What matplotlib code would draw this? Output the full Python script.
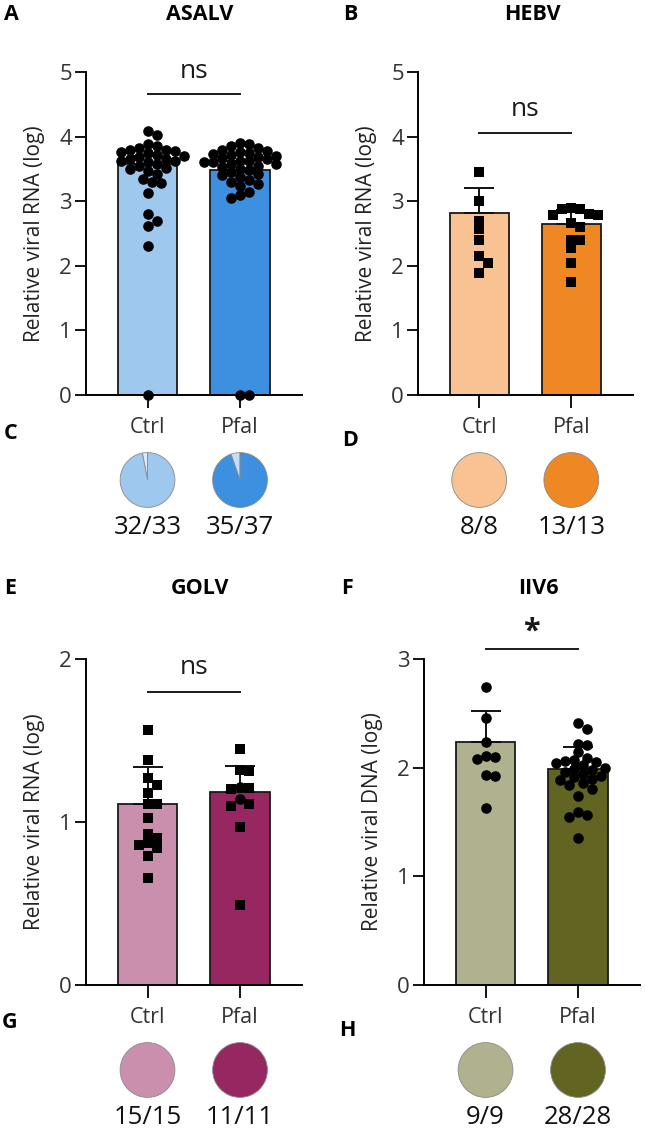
import matplotlib.pyplot as plt
import numpy as np

plt.rcParams['font.family'] = ['Open Sans', 'DejaVu Sans']

W, H, DPI = 645, 1132, 100

groups = ["Ctrl", "Pfal"]

# ── ASALV ────────────────────────────────────────────────────────────────
asalv_ctrl = [4.09, 4.02, 3.88, 3.85, 3.82, 3.80, 3.79, 3.78, 3.76, 3.74, 3.72,
              3.70, 3.68, 3.66, 3.65, 3.63, 3.62, 3.60, 3.58, 3.55, 3.52, 3.50,
              3.47, 3.42, 3.35, 3.30, 3.28, 3.12, 2.80, 2.70, 2.62, 2.30, 0.0]
asalv_pfal = [3.90, 3.88, 3.85, 3.82, 3.80, 3.78, 3.76, 3.75, 3.73, 3.72, 3.70,
              3.68, 3.67, 3.65, 3.63, 3.62, 3.60, 3.60, 3.58, 3.57, 3.55, 3.53,
              3.50, 3.48, 3.45, 3.42, 3.40, 3.37, 3.33, 3.30, 3.27, 3.24, 3.15,
              3.10, 3.05, 0.0, 0.0]
asalv_mean = [3.57, 3.49]
asalv_err = [0.13, 0.14]
asalv_pos = [32, 35]
asalv_tot = [33, 37]

# ── HEBV ─────────────────────────────────────────────────────────────────
hebv_ctrl = [3.45, 3.00, 2.70, 2.57, 2.40, 2.15, 2.05, 1.89]
hebv_pfal = [2.90, 2.88, 2.88, 2.80, 2.78, 2.78, 2.66, 2.60, 2.40, 2.40, 2.27,
             2.04, 1.75]
hebv_mean = [2.81, 2.64]
hebv_err = [0.39, 0.22]
hebv_pos = [8, 13]
hebv_tot = [8, 13]

# ── GOLV ─────────────────────────────────────────────────────────────────
golv_ctrl = [1.565, 1.38, 1.27, 1.23, 1.18, 1.11, 1.11, 1.025, 0.926, 0.90,
             0.87, 0.856, 0.84, 0.79, 0.655]
golv_pfal = [1.45, 1.32, 1.31, 1.21, 1.20, 1.215, 1.14, 1.11, 1.10, 0.97, 0.49]
golv_pfal_marks = ["s", "s", "s", "s", "s", "o", "o", "s", "s", "s", "s"]
golv_mean = [1.11, 1.187]
golv_err = [0.225, 0.156]
golv_pos = [15, 11]
golv_tot = [15, 11]

# ── IIV6 ─────────────────────────────────────────────────────────────────
iiv6_ctrl = [2.74, 2.46, 2.24, 2.10, 2.08, 2.11, 1.93, 1.92, 1.63]
iiv6_pfal = [2.41, 2.36, 2.22, 2.21, 2.14, 2.09, 2.07, 2.06, 2.05, 2.04, 2.02,
             2.00, 1.99, 1.98, 1.96, 1.94, 1.92, 1.91, 1.90, 1.89, 1.86, 1.84,
             1.80, 1.74, 1.59, 1.56, 1.55, 1.35]
iiv6_mean = [2.24, 1.99]
iiv6_err = [0.28, 0.20]
iiv6_pos = [9, 28]
iiv6_tot = [9, 28]

XLIM = (-0.665, 1.67)
BAR_W = 0.64
DOT = 9.0  # marker diameter, px


def px_rect(l, t, r, b):
    return [l / W, 1 - b / H, (r - l) / W, (b - t) / H]


def swarm(vals, xc, sx, sy, d=DOT):
    """Simple beeswarm: x offsets (data units) avoiding overlaps in pixel space."""
    vals = np.asarray(vals, float)
    xs = np.full(len(vals), float(xc))
    placed = []
    for i in np.argsort(-vals, kind="stable"):
        ypx = vals[i] * sy
        off = 0.0
        for k in range(40):
            cands = [0.0] if k == 0 else [k * d * 0.5, -k * d * 0.5]
            hit = False
            for c in cands:
                if all((c - px) ** 2 + (ypx - py) ** 2 >= (d * 0.92) ** 2
                       for px, py in placed):
                    off, hit = c, True
                    break
            if hit:
                break
        placed.append((off, ypx))
        xs[i] = xc + off / sx
    return xs


def text_px(fig, x, y, s, **kw):
    fig.text(x / W, 1 - y / H, s, ha="center", va="center", **kw)


panels = [
    dict(rect=(86, 72, 302, 395), title="ASALV", letter="A", tx=200, ty=14, lx=11,
         ylabel="Relative viral RNA (log)", ymax=5, yticks=[0, 1, 2, 3, 4, 5],
         data=[asalv_ctrl, asalv_pfal], marks=[["o"] * 33, ["o"] * 37],
         mean=asalv_mean, err=asalv_err, pos=asalv_pos, tot=asalv_tot,
         colors=["#9fc8ee", "#3d8fe0"], neg=["#dbe9f8", "#c6ddf5"],
         sig="ns", sig_y=4.66, sig_ty=5.0,
         pletter="C", ply=433, row_y=428, pie_y=480, frac_y=527),
    dict(rect=(418, 72, 633, 395), title="HEBV", letter="B", tx=532, ty=14, lx=350,
         ylabel="Relative viral RNA (log)", ymax=5, yticks=[0, 1, 2, 3, 4, 5],
         data=[hebv_ctrl, hebv_pfal], marks=[["s"] * 8, ["s"] * 13],
         mean=hebv_mean, err=hebv_err, pos=hebv_pos, tot=hebv_tot,
         colors=["#f8c292", "#ef8723"], neg=["#fbe3cc", "#f8cfa5"],
         sig="ns", sig_y=4.05, sig_ty=4.42,
         pletter="D", ply=441, row_y=428, pie_y=480, frac_y=527),
    dict(rect=(86, 659, 302, 985), title="GOLV", letter="E", tx=200, ty=589, lx=10,
         ylabel="Relative viral RNA (log)", ymax=2, yticks=[0, 1, 2],
         data=[golv_ctrl, golv_pfal], marks=[["s"] * 15, golv_pfal_marks],
         mean=golv_mean, err=golv_err, pos=golv_pos, tot=golv_tot,
         colors=["#cb8fae", "#962760"], neg=["#ead3df", "#d6a7bf"],
         sig="ns", sig_y=1.80, sig_ty=1.945,
         pletter="G", ply=1023, row_y=1017, pie_y=1070, frac_y=1117),
    dict(rect=(424, 659, 640, 985), title="IIV6", letter="F", tx=538, ty=589, lx=347,
         ylabel="Relative viral DNA (log)", ymax=3, yticks=[0, 1, 2, 3],
         data=[iiv6_ctrl, iiv6_pfal], marks=[["o"] * 9, ["o"] * 28],
         mean=iiv6_mean, err=iiv6_err, pos=iiv6_pos, tot=iiv6_tot,
         colors=["#b0b28f", "#616521"], neg=["#e2e3d3", "#b7b98f"],
         sig="*", sig_y=3.095, sig_ty=3.25,
         pletter="H", ply=1031, row_y=1017, pie_y=1070, frac_y=1117),
]

fig = plt.figure(figsize=(W / DPI, H / DPI), dpi=DPI)
x = np.arange(len(groups))

for p in panels:
    l, t, r, b = p["rect"]
    ax = fig.add_axes(px_rect(l, t, r, b))
    ax.set_xlim(*XLIM)
    ax.set_ylim(0, p["ymax"])
    sx = (r - l) / (XLIM[1] - XLIM[0])
    sy = (b - t) / p["ymax"]

    ax.bar(x, p["mean"], width=BAR_W, color=p["colors"], edgecolor="#1a1a1a",
           linewidth=1.3, zorder=1)
    ax.errorbar(x, p["mean"], yerr=[[0, 0], p["err"]], fmt="none",
                ecolor="#111111", elinewidth=1.4, capsize=11, capthick=1.4, zorder=2)
    for i, vals in enumerate(p["data"]):
        xs = swarm(vals, x[i], sx, sy)
        marks = np.array(p["marks"][i])
        for m in np.unique(marks):
            sel = marks == m
            ax.scatter(xs[sel], np.asarray(vals)[sel], marker=m,
                       s=50 if m == "s" else 58, color="black", linewidths=0,
                       zorder=3, clip_on=False)

    # significance bar
    ax.plot([0, 1], [p["sig_y"]] * 2, color="#1a1a1a", lw=1.4, clip_on=False)
    star = p["sig"] == "*"
    ax.text(0.5, p["sig_ty"], p["sig"], ha="center", va="center",
            fontsize=22 if star else 19, fontweight="bold" if star else "normal",
            color="#1a1a1a", clip_on=False)

    ax.spines[["top", "right"]].set_visible(False)
    for s in ("left", "bottom"):
        ax.spines[s].set_linewidth(1.4)
    ax.set_yticks(p["yticks"])
    ax.set_xticks(x)
    ax.set_xticklabels(groups)
    ax.tick_params(axis="y", length=8, width=1.3, labelsize=16, pad=2,
                   labelcolor="#333333")
    ax.tick_params(axis="x", length=9, width=1.3, labelsize=15.5, pad=7,
                   labelcolor="#333333")
    ax.set_ylabel(p["ylabel"], fontsize=15, color="#222222")
    ax.yaxis.set_label_coords(-0.19, 0.5)

    text_px(fig, p["tx"], p["ty"], p["title"], fontsize=15.5, fontweight="bold")
    text_px(fig, p["lx"], p["ty"], p["letter"], fontsize=15.5, fontweight="bold")
    text_px(fig, p["lx"], p["ply"], p["pletter"], fontsize=15.5, fontweight="bold")

    # prevalence pies
    rad = 27.5
    for i in range(len(groups)):
        cx = l + (x[i] - XLIM[0]) * sx
        pax = fig.add_axes(px_rect(cx - rad - 1, p["pie_y"] - rad - 1,
                                   cx + rad + 1, p["pie_y"] + rad + 1))
        neg = p["tot"][i] - p["pos"][i]
        sizes = [neg, p["pos"][i]] if neg else [p["pos"][i]]
        cols = [p["neg"][i], p["colors"][i]] if neg else [p["colors"][i]]
        pax.pie(sizes, colors=cols, startangle=90, counterclock=True,
                wedgeprops=dict(edgecolor="#8a8a8a", linewidth=0.6))
        pax.set_xlim(-1.04, 1.04)
        pax.set_ylim(-1.04, 1.04)
        pax.set_aspect("equal")
        pax.axis("off")
        text_px(fig, cx, p["frac_y"], f"{p['pos'][i]}/{p['tot'][i]}",
                fontsize=18.5, color="#111111")

fig.savefig("out.png", dpi=DPI)
